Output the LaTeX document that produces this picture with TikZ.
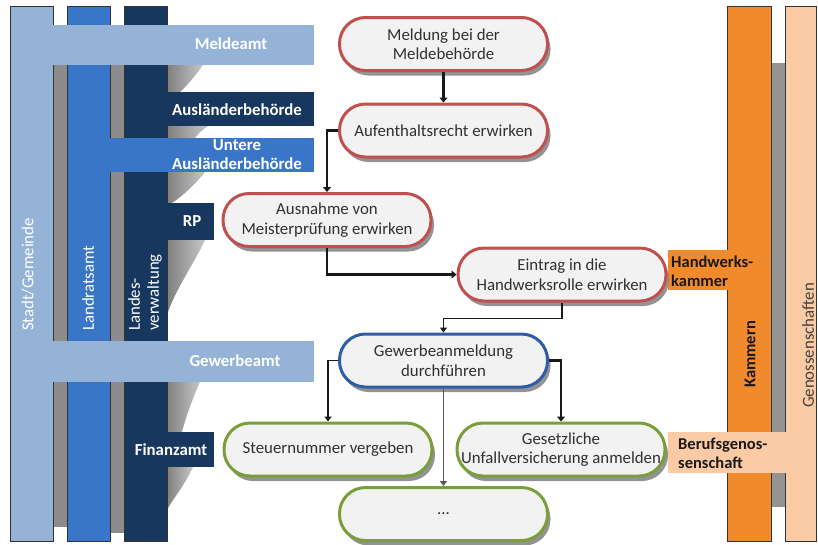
\documentclass[tikz,border=0pt]{standalone}
\usepackage{fontspec}
\setmainfont{Carlito}
\usetikzlibrary{arrows.meta,shadows}
\definecolor{stadt}{HTML}{95B3D7}
\definecolor{landrat}{HTML}{3A76C8}
\definecolor{navy}{HTML}{17375E}
\definecolor{kammer}{HTML}{F08A2C}
\definecolor{genoss}{HTML}{FACBA4}
\definecolor{redb}{HTML}{C0504D}
\definecolor{blueb}{HTML}{2F5DA5}
\definecolor{greenb}{HTML}{7A9E3A}
\definecolor{nodefill}{HTML}{F2F2F2}
\definecolor{txt}{HTML}{303030}
\begin{document}
\begin{tikzpicture}[x=1pt,y=-1pt,
  every node/.style={font=\fontsize{16.8}{19.5}\selectfont, inner sep=0pt},
  colbox/.style={draw=black!80, line width=0.7pt},
  gapgray/.style={fill=black!45},
  softshadow/.style={left color=black!50, right color=black!22},
  barlabel/.style={text=white, font=\fontsize{16.8}{19}\selectfont\bfseries, align=center},
  sidelabel/.style={text=black!90, font=\fontsize{16.5}{19}\selectfont\bfseries, align=left, anchor=west},
  collabel/.style={rotate=90, anchor=west, align=left},
  flownode/.style={rectangle, rounded corners=26pt, fill=nodefill, line width=3pt,
    minimum width=208pt, minimum height=53pt, align=center, text=txt,
    drop shadow={shadow xshift=3pt, shadow yshift=-5pt, fill=black!50, opacity=0.85}},
  arr/.style={draw=black!90, line width=2.3pt, -{Triangle[length=5pt,width=8pt]}},
  arrthin/.style={draw=black!90, line width=1.6pt, -{Triangle[length=5pt,width=7pt]}}
]
\useasboundingbox (0,0) rectangle (818,544);

% gray gap strips and soft shadows (left)
\fill[gapgray] (53,65) rectangle (67,527);
\fill[gapgray] (110,65) rectangle (124,533);
\shade[softshadow] (167,65) -- (203,65) .. controls (196,75) and (185,88) .. (180,92) -- (167,92) -- cycle;
\shade[softshadow] (167,126) -- (208,126) .. controls (200,132) .. (195,138) -- (167,138) -- cycle;
\shade[softshadow] (167,172) -- (205,172) .. controls (195,185) and (180,198) .. (172,203) -- (167,203) -- cycle;
\shade[softshadow] (167,240) -- (205,240) .. controls (195,262) and (175,290) .. (167,315) -- cycle;
\shade[softshadow] (167,382) -- (200,382) .. controls (192,400) and (185,420) .. (182,432) -- (167,432) -- cycle;
\shade[softshadow] (167,467) -- (193,467) .. controls (185,485) and (172,500) .. (167,510) -- cycle;

% left columns
\path[colbox, fill=stadt] (10,6) rectangle (53,541);
\path[colbox, fill=landrat] (67,6) rectangle (110,541);
\path[colbox, fill=navy] (124,6) rectangle (167,541);

% left bars
\fill[stadt] (52,25) rectangle (314,65);
\fill[stadt] (52,341) rectangle (314,382);
\fill[landrat] (109,138) rectangle (314,172);
\fill[navy] (166,92) rectangle (314,126);
\fill[navy] (166,203) rectangle (214,240);
\fill[navy] (166,432) rectangle (214,467);

\node[barlabel] (lmelde) at (231,44) {Meldeamt};
\node[barlabel] (lausl) at (237,110) {Ausländerbehörde};
\node[barlabel] (luntere) at (237,155) {Untere\\Ausländerbehörde};
\node[barlabel] (lrp) at (192,221) {RP};
\node[barlabel] (lgewerbe) at (235,361) {Gewerbeamt};
\node[barlabel] (lfinanz) at (171,450) {Finanzamt};

\node[collabel, text=white] (lstadt) at (28,331) {Stadt/Gemeinde};
\node[collabel, text=white] (llandrat) at (88,331) {Landratsamt};
\node[collabel, text=white, font=\fontsize{16.8}{19}\selectfont] (llandes) at (145,331) {Landes-\\verwaltung};

% right columns
\fill[black!42] (771,63) rectangle (785,507);
\path[colbox, fill=kammer] (727,6) rectangle (771,541);
\path[colbox, fill=genoss] (785,6) rectangle (816,541);
\fill[kammer] (668,250) rectangle (728,290);
\fill[genoss] (668,432) rectangle (786,473);

\node[sidelabel] (lhwk) at (671,271) {Handwerks-\\kammer};
\node[sidelabel] (lberuf) at (678,453) {Berufsgenos-\\senschaft};
\node[collabel, text=black!90, font=\fontsize{16.5}{19}\selectfont\bfseries] (lkammern) at (750,388) {Kammern};
\node[collabel, text=black!75] (lgenoss) at (808,408) {Genossenschaften};

% flow nodes
\node[flownode, draw=redb] (meld) at (443.5,44) {Meldung bei der\\Meldebehörde};
\node[flownode, draw=redb] (auf) at (443.5,130.5) {Aufenthaltsrecht erwirken};
\node[flownode, draw=redb] (aus) at (327,220) {Ausnahme von\\Meisterprüfung erwirken};
\node[flownode, draw=redb] (ein) at (562,274.5) {Eintrag in die\\Handwerksrolle erwirken};
\node[flownode, draw=blueb] (gew) at (443.5,360.5) {Gewerbeanmeldung\\durchführen};
\node[flownode, draw=greenb] (steu) at (328,449.5) {Steuernummer vergeben};
\node[flownode, draw=greenb] (unf) at (561,449.5) {Gesetzliche\\Unfallversicherung anmelden};
\node[flownode, draw=greenb] (dots) at (443.5,514) {...};

% connectors
\draw[arr] (meld.south) -- (auf.north);
\draw[arr] (auf.west) -| (aus.north);
\draw[arr] (aus.south) |- (ein.west);
\draw[arrthin] (ein.south) -- ++(0,16) -| (gew.north);
\draw[arrthin, line width=1.9pt] (gew.west) -| (steu.north);
\draw[arr, line width=2.6pt] (gew.east) -| (unf.north);
\draw[arrthin, draw=black!65] (gew.south) -- (dots.north);
\end{tikzpicture}
\end{document}
